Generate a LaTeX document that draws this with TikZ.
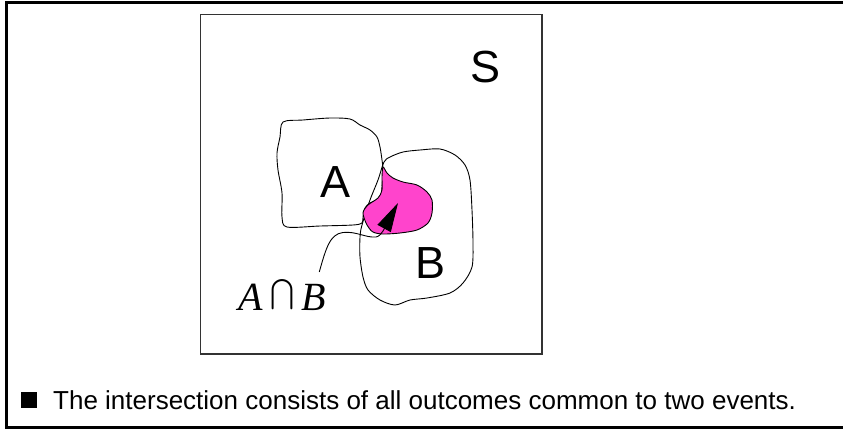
\documentclass[tikz,border=0pt]{standalone}
\usepackage{fontspec}
\setmainfont{Liberation Sans}
\newfontfamily\timesfont{Liberation Serif}
\usetikzlibrary{arrows.meta}
\definecolor{blobpink}{RGB}{255,68,204}

\begin{document}
\begin{tikzpicture}[x=1pt,y=-1pt,
  outline/.style={draw=black, line width=0.9pt},
  setlabel/.style={font=\fontsize{45}{50}\selectfont, inner sep=0pt}]
  \useasboundingbox (0,0) rectangle (843,429);
  % frame
  \draw[line width=2.8pt] (843,2.5) -- (6.5,2.5) -- (6.5,427.5) -- (843,427.5);
  % sample space
  \draw[black!80, line width=1.6pt] (200.5,14.5) rectangle (542,354);
  % event A
  \draw[outline] plot[smooth cycle, tension=0.5] coordinates {(283,122) (303,120) (330,118) (350,119) (360,125) (370,130) (377,137) (380,147) (382,160) (383,170) (382,187) (380,198) (370,203) (365,208) (363,217) (362,223) (353,225) (320,226) (287,227) (282,217) (282,193) (278,170) (277,153) (280,137)};
  % event B
  \draw[outline] plot[smooth cycle, tension=0.5] coordinates {(384,162) (390,157) (403,152) (420,150) (440,149) (455,155) (465,165) (470,180) (472,210) (473,243) (472,267) (463,283) (450,293) (427,298) (410,300) (395,305) (380,300) (368,290) (363,277) (360,257) (360,237) (362,225) (370,200) (378,180)};
  % common part
  \filldraw[outline, fill=blobpink] plot[smooth cycle, tension=0.5] coordinates {(383,167) (387,173) (393,178) (403,182) (417,185) (427,192) (432,200) (432,213) (428,223) (417,230) (400,233) (383,234) (373,232) (367,225) (363,213) (368,205) (378,198) (382,190) (382,177)};
  \node[setlabel] (space) at (486,67) {S};
  \node[setlabel] (seta) at (336,182) {A};
  \node[setlabel] (setb) at (431,263) {B};
  \node[anchor=base west, inner sep=0pt] (ab) at (238,310)
    {\fontsize{40}{44}\timesfont\itshape A\hspace{8pt}\raisebox{-3pt}{\resizebox*{24pt}{34pt}{\raisebox{\depth}{$\bigcap$}}}\hspace{7pt}B};
  \coordinate (tip) at (398,203);
  \draw[black, line width=0.9pt, -{Triangle[length=29pt,width=15pt]}] ([xshift=-7pt,yshift=38pt]ab.base east)
    .. controls (326,248) and (330,234) .. (343,232.5)
    .. controls (356,231) and (366,238) .. (376,237)
    .. controls (382,236) and (386,225) .. (tip);
  % caption
  \fill (20.5,391.5) rectangle (37,408);
  \node[anchor=base west, inner sep=0pt, font=\fontsize{26}{30}\selectfont] (caption) at (53,409)
    {The intersection consists of all outcomes common to two events.};
\end{tikzpicture}
\end{document}
